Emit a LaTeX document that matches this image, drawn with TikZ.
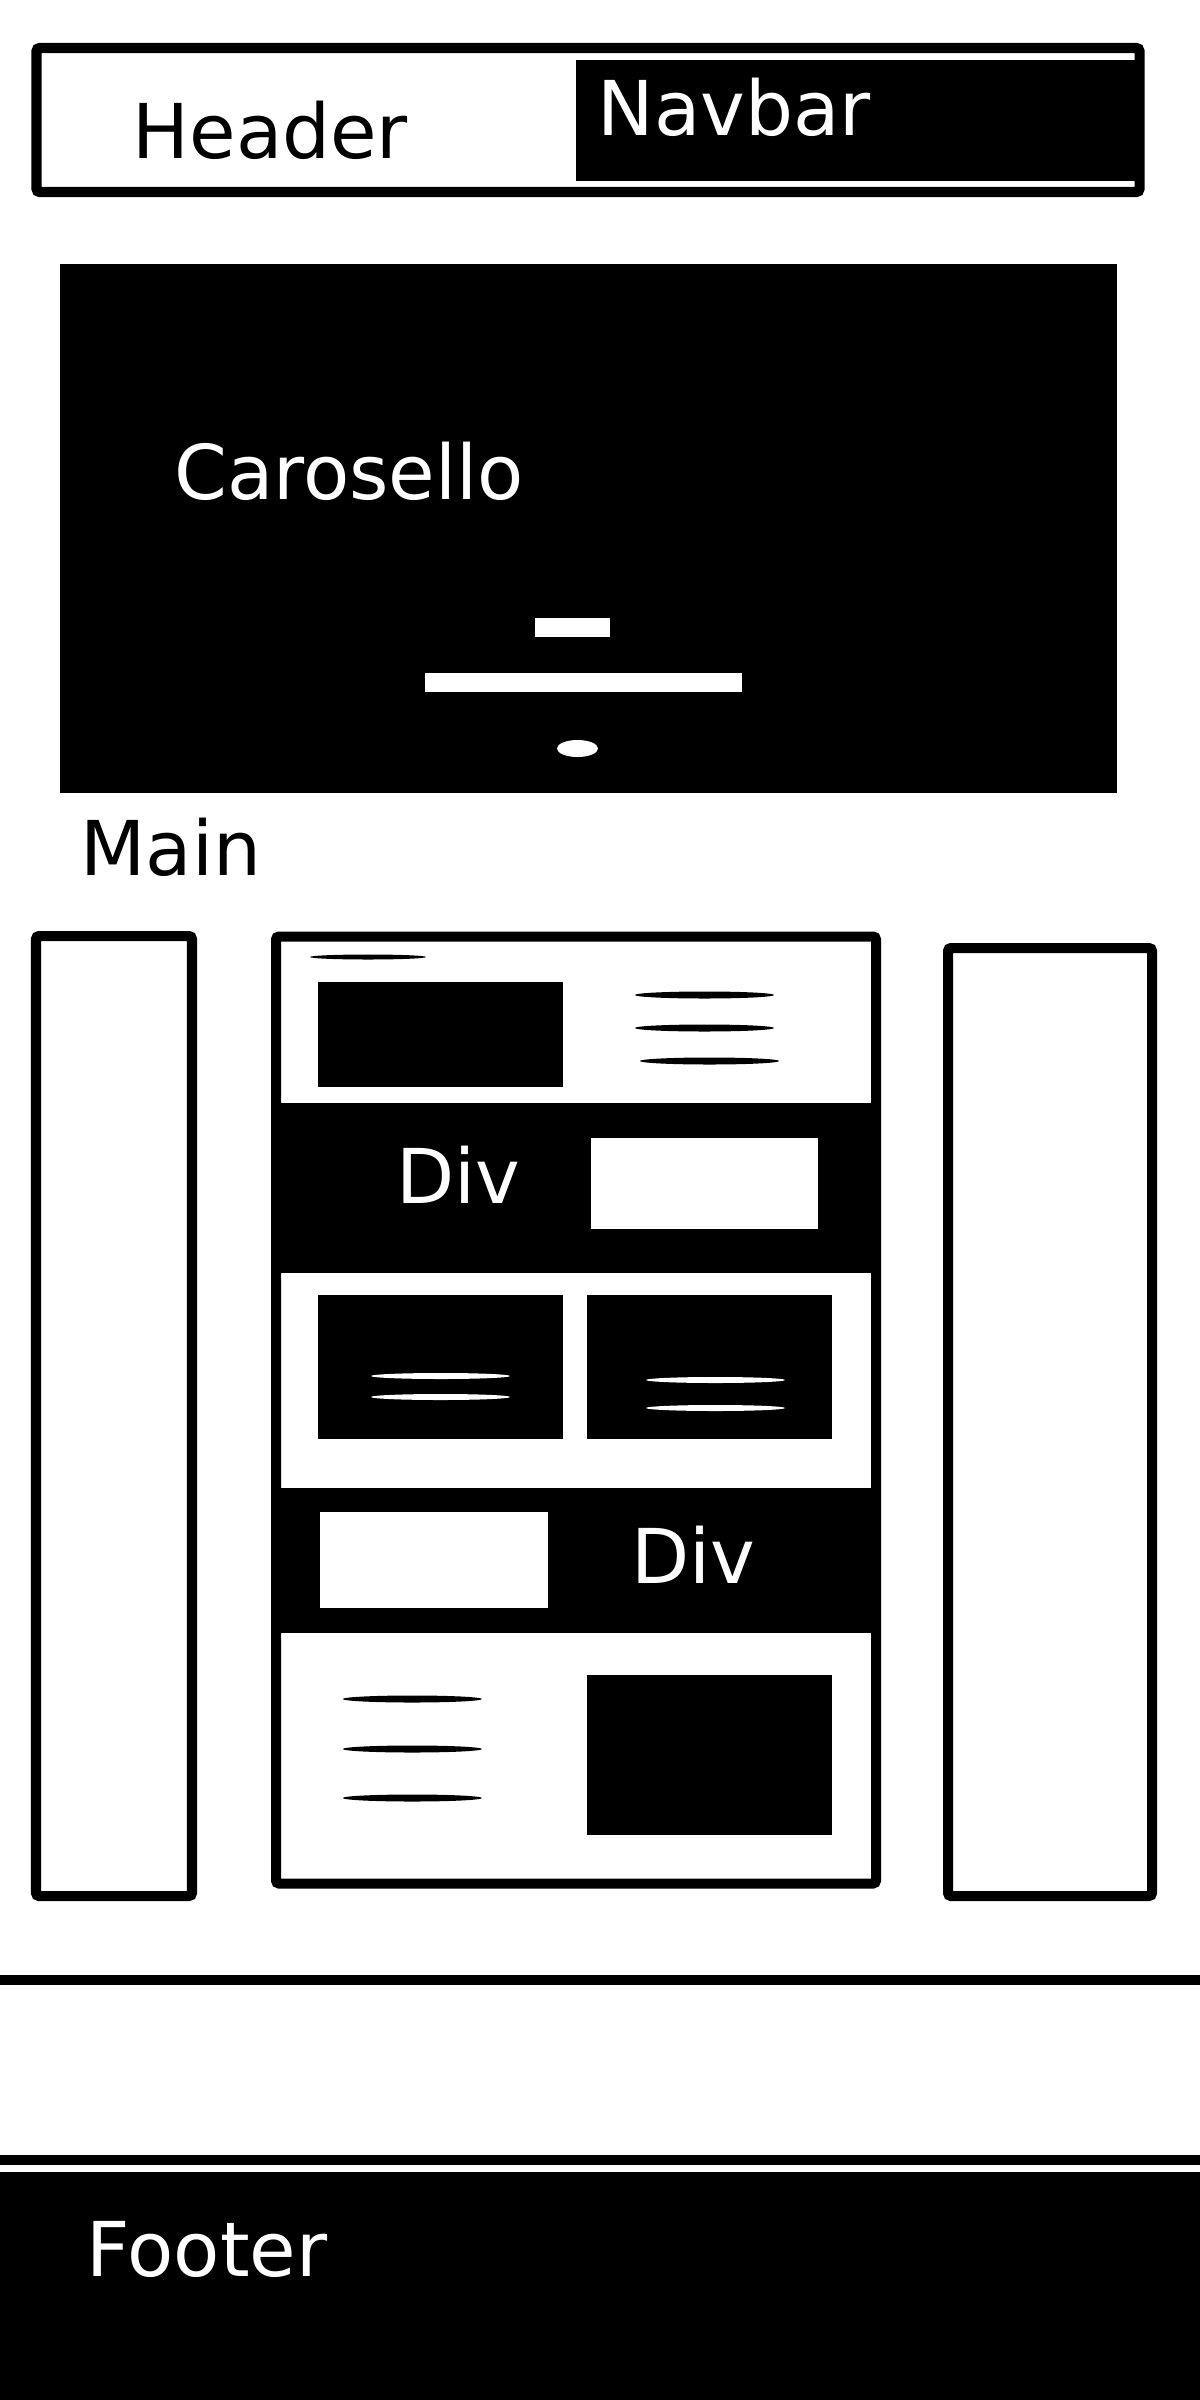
\documentclass[tikz,border=0pt]{standalone}
\usepackage{fontspec}
\setmainfont{DejaVu Sans}
\tikzset{
  box/.style={line width=0.1cm, rounded corners=0.03cm},
  blk/.style={fill=black},
  lbl/.style={font=\fontsize{21.5}{25}\selectfont, anchor=base west, inner sep=0pt},
  txtline/.style={fill=black, x radius=0.695cm, y radius=0.035cm},
}
\begin{document}
\begin{tikzpicture}[x=0.01cm, y=-0.01cm]
\useasboundingbox (0,0) rectangle (1200,2400);
% header
\fill [blk] (576,60) rectangle (1136,181);
\draw [box] (36.5,48) rectangle (1139.5,192);
\node [lbl] (header) at (132,159) {Header};
\node [lbl, text=white] (navbar) at (597,136) {Navbar};
% carousel
\fill [blk] (60,264) rectangle (1117,793);
\node [lbl, text=white] (carosello) at (174,499) {Carosello};
\fill [white] (535,618) rectangle (610,637);
\fill [white] (425,673) rectangle (742,692);
\fill [white] (577.5,748.5) ellipse [x radius=0.205cm, y radius=0.085cm];
\node [lbl] (main) at (80,875) {Main};
% side columns
\draw [box] (36,936) rectangle (192,1896);
\draw [box] (948,948) rectangle (1152,1896);
% central column
\fill [blk] (280,1103) rectangle (872,1273);
\fill [blk] (280,1488) rectangle (872,1633);
\draw [box] (276,936.5) rectangle (876,1883.5);
\fill (368,957) ellipse [x radius=0.58cm, y radius=0.025cm];
\fill [blk] (318,982) rectangle (563,1087);
\fill (704.5,995) ellipse [txtline];
\fill (704.5,1028) ellipse [txtline];
\fill (709.5,1061) ellipse [txtline];
\node [lbl, text=white] (div1) at (396,1203) {Div};
\fill [white] (591,1138) rectangle (818,1229);
\fill [blk] (318,1295) rectangle (563,1439);
\fill [blk] (587,1295) rectangle (832,1439);
\fill [white] (440.5,1376) ellipse [txtline, y radius=0.03cm];
\fill [white] (440.5,1397) ellipse [txtline, y radius=0.03cm];
\fill [white] (715.5,1380) ellipse [txtline, y radius=0.03cm];
\fill [white] (715.5,1408) ellipse [txtline, y radius=0.03cm];
\fill [white] (320,1512) rectangle (548,1608);
\node [lbl, text=white] (div2) at (631,1583) {Div};
\fill (412.3,1699) ellipse [txtline];
\fill (412.3,1749) ellipse [txtline];
\fill (412.3,1798) ellipse [txtline];
\fill [blk] (587,1675) rectangle (832,1835);
% footer
\draw [line width=0.1cm] (0,1980) -- (1200,1980);
\draw [line width=0.1cm] (0,2160) -- (1200,2160);
\fill [blk] (0,2172) rectangle (1200,2400);
\node [lbl, text=white] (footer) at (86,2276) {Footer};
\end{tikzpicture}
\end{document}
